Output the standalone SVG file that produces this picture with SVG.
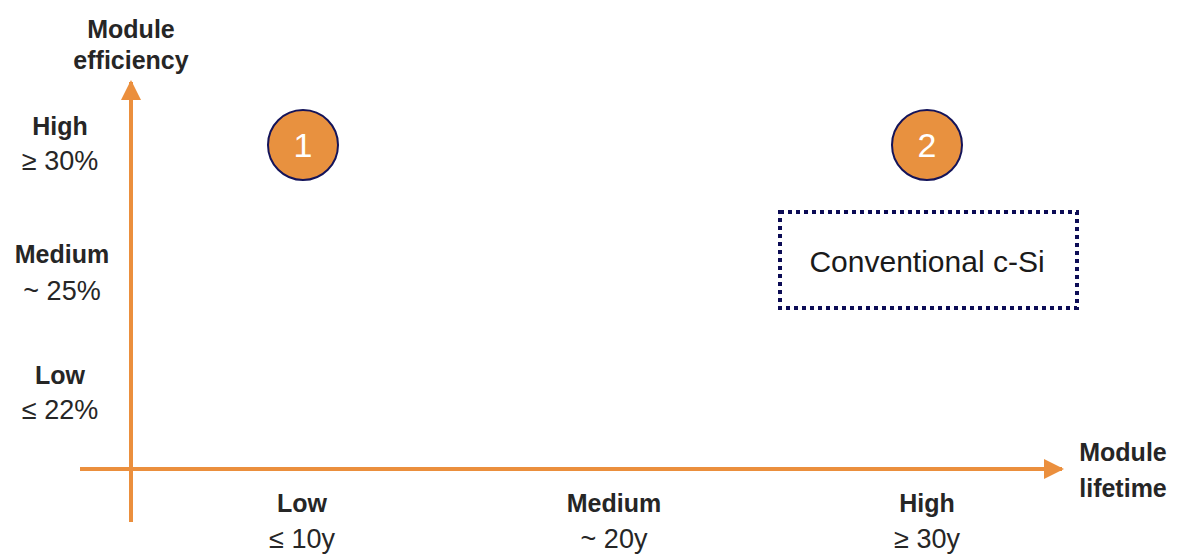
<svg xmlns="http://www.w3.org/2000/svg" width="1177" height="554" viewBox="0 0 1177 554">
<style>
text{font-family:"Liberation Sans",Arial,sans-serif;fill:#262626;text-anchor:middle}
.b{font-weight:bold;font-size:25px}
.r{font-size:27px}
.axis{stroke:#EB8F3D;stroke-width:4;fill:none}
.num{fill:#E8913F;stroke:#14145A;stroke-width:2}
.numt{fill:#ffffff;font-size:34px}
</style>
<defs>
<marker id="ah" viewBox="0 0 10 10" refX="9" refY="5" markerWidth="5" markerHeight="5" orient="auto" markerUnits="strokeWidth">
<path d="M0,0 L10,5 L0,10 z" fill="#EB8F3D"/>
</marker>
</defs>
<g id="connectors">
<line class="axis" x1="131" y1="522" x2="131" y2="82" marker-end="url(#ah)"/>
<line class="axis" x1="80" y1="469" x2="1062" y2="469" marker-end="url(#ah)"/>
</g>
<g id="y-axis-title"><text class="b" x="131" y="38">Module</text><text class="b" x="131" y="69">efficiency</text></g>
<g id="y-high"><text class="b" x="60" y="135">High</text><text class="r" x="60" y="170">≥ 30%</text></g>
<g id="y-medium"><text class="b" x="62" y="263">Medium</text><text class="r" x="62" y="300">~ 25%</text></g>
<g id="y-low"><text class="b" x="60" y="384">Low</text><text class="r" x="60" y="419">≤ 22%</text></g>
<g id="x-axis-title"><text class="b" x="1123" y="461">Module</text><text class="b" x="1123" y="497">lifetime</text></g>
<g id="x-low"><text class="b" x="302" y="512">Low</text><text class="r" x="302" y="548">≤ 10y</text></g>
<g id="x-medium"><text class="b" x="614" y="512">Medium</text><text class="r" x="614" y="548">~ 20y</text></g>
<g id="x-high"><text class="b" x="927" y="512">High</text><text class="r" x="927" y="548">≥ 30y</text></g>
<g id="node-1"><circle class="num" cx="303" cy="145" r="35"/><text class="numt" x="303" y="157">1</text></g>
<g id="node-2"><circle class="num" cx="927" cy="145" r="35"/><text class="numt" x="927" y="157">2</text></g>
<g id="conventional-csi">
<rect x="780" y="212" width="297" height="96" fill="none" stroke="#0D0D56" stroke-width="4" stroke-dasharray="4,4"/>
<text x="927" y="272" style="font-size:30px;fill:#1a1a1a">Conventional c-Si</text>
</g>
</svg>
